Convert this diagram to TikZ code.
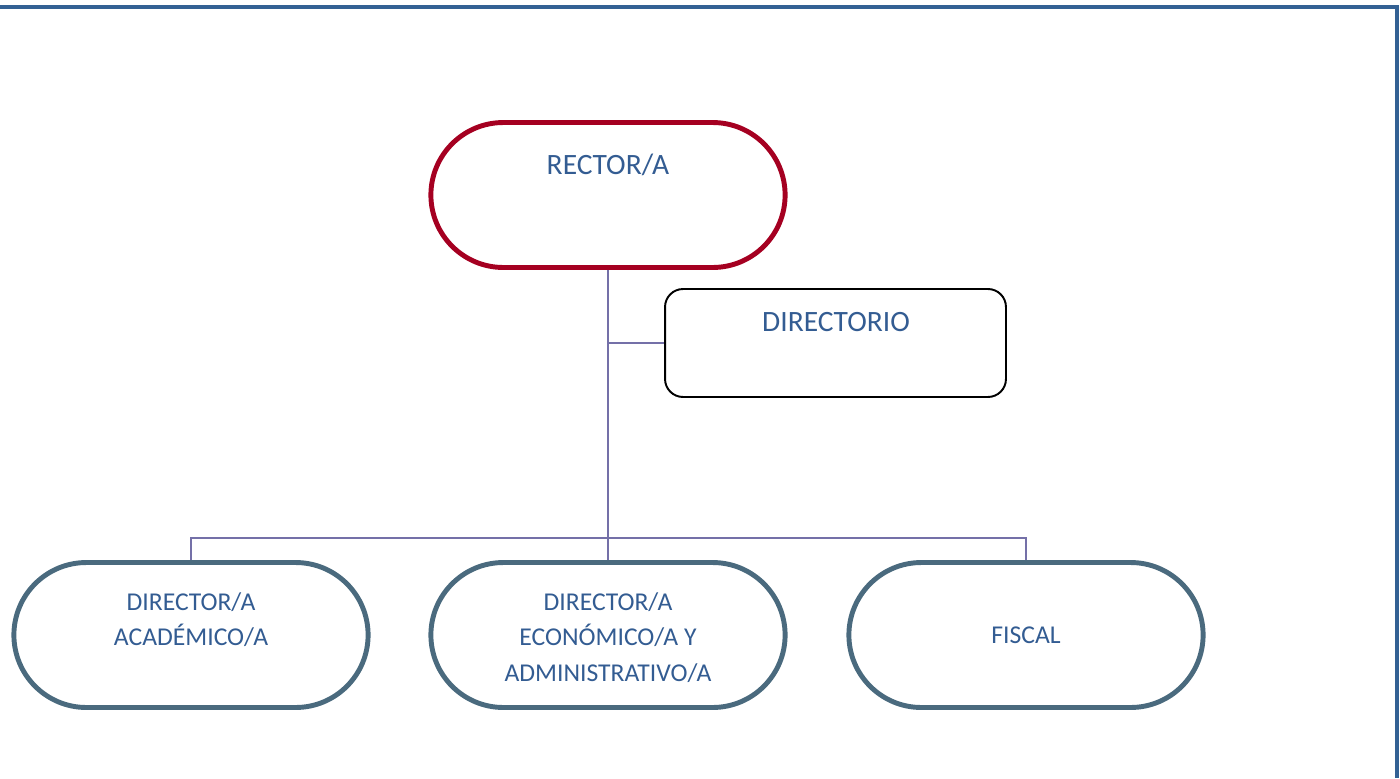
\documentclass[tikz,border=0pt]{standalone}
\usepackage{fontspec}
\setmainfont{Carlito}
\usetikzlibrary{shapes.misc}
\definecolor{rectorred}{HTML}{A50021}
\definecolor{boxslate}{HTML}{4A6A7E}
\definecolor{linkviolet}{HTML}{7470A8}
\definecolor{textblue}{HTML}{335C92}
\definecolor{frameblue}{HTML}{336194}
\begin{document}
\begin{tikzpicture}[x=0.02cm,y=-0.02cm,
    pill/.style={rounded rectangle, minimum width=7.32cm, minimum height=2.9cm,
      line width=2.8pt, text=textblue, align=center, font=\fontsize{14.6}{20}\selectfont},
    heading/.style={text=textblue, font=\fontsize{16.8}{20}\selectfont},
    link/.style={draw=linkviolet, line width=1.1pt}]
    \useasboundingbox (0,0) rectangle (1400,778);
    % frame
    \draw[frameblue, line width=2.2pt] (0,7) -- (1397,7) -- (1397,778);

    \node[pill, draw=rectorred] (rector) at (608,195) {};
    \node[heading] (rectortext) at (608,165) {RECTOR/A};
    \node[draw, rounded corners=0.36cm, line width=1.1pt, minimum width=6.82cm, minimum height=2.16cm] (directorio) at (835.5,343) {};
    \node[heading] (directoriotext) at (836,322) {DIRECTORIO};

    \node[pill, draw=boxslate] (academico) at (191,635) {DIRECTOR/A\\ACADÉMICO/A\\[-8pt]\strut};
    \node[pill, draw=boxslate] (economico) at (608,635) {\strut\\[-21pt]DIRECTOR/A\\ECONÓMICO/A Y\\ADMINISTRATIVO/A};
    \node[pill, draw=boxslate] (fiscal) at (1026,635) {FISCAL};

    \coordinate (bus) at (608,538);
    \draw[link] (rector.south) -- (economico.north);
    \draw[link] (directorio.west) -- (rector.south |- directorio.west);
    \draw[link] (academico.north) |- (bus) -| (fiscal.north);
\end{tikzpicture}
\end{document}
